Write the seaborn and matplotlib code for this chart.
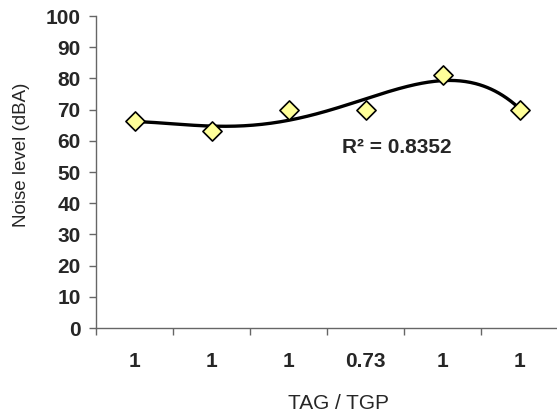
import numpy as np
import pandas as pd
import matplotlib
matplotlib.use("Agg")
import matplotlib.pyplot as plt
import seaborn as sns

categories = ["1", "1", "1", "0.73", "1", "1"]
noise = [66.5, 63, 70, 70, 81, 70]
r2_label = "R\u00b2 = 0.8352"

sns.set_style("white")
plt.rcParams['font.family'] = ['Liberation Sans', 'DejaVu Sans']

fig = plt.figure(figsize=(5.57, 4.18), dpi=100)
ax = fig.add_axes([0.1724, 0.2153, 0.8294, 0.7464])

x = np.arange(len(noise))
df = pd.DataFrame({"x": x, "y": noise})

# 4th-order polynomial trendline (as in the spreadsheet chart)
coef = np.polyfit(x, noise, 4)
xs = np.linspace(0, len(noise) - 1, 300)
trend = pd.DataFrame({"x": xs, "y": np.polyval(coef, xs)})
sns.lineplot(data=trend, x="x", y="y", ax=ax, color="black", lw=2.4, zorder=3)

sns.scatterplot(data=df, x="x", y="y", marker="D", s=95, color="#FFFF99",
                edgecolor="black", linewidth=1.2, ax=ax, zorder=5)

ax.text(2.69, 56, r2_label, fontsize=15, fontweight="bold", ha="left", va="baseline")

ax.set_xlim(-0.5, len(noise) - 0.5)
ax.set_ylim(0, 100)
ax.set_yticks(np.arange(0, 101, 10))
ax.set_yticklabels([str(v) for v in range(0, 101, 10)], fontsize=15, fontweight="bold")

ax.set_xticks(np.arange(-0.5, len(noise), 1.0))
ax.set_xticklabels([])
ax.set_xticks(x, minor=True)
ax.set_xticklabels(categories, minor=True, fontsize=15, fontweight="bold")

ax.tick_params(axis="x", which="major", direction="out", length=5, width=1, color="#666666", bottom=True)
ax.tick_params(axis="x", which="minor", length=0, pad=17, bottom=True)
ax.tick_params(axis="y", direction="out", length=5, width=1, color="#666666", pad=6, left=True)

for s in ["top", "right"]:
    ax.spines[s].set_visible(False)
for s in ["left", "bottom"]:
    ax.spines[s].set_color("#666666")
    ax.spines[s].set_linewidth(1)

ax.set_xlabel("TAG / TGP", fontsize=15)
ax.set_ylabel("Noise level (dBA)", fontsize=13.5)
ax.xaxis.set_label_coords(0.524, -0.212)
ax.yaxis.set_label_coords(-0.142, 0.554)

plt.savefig("out.png", dpi=100)
